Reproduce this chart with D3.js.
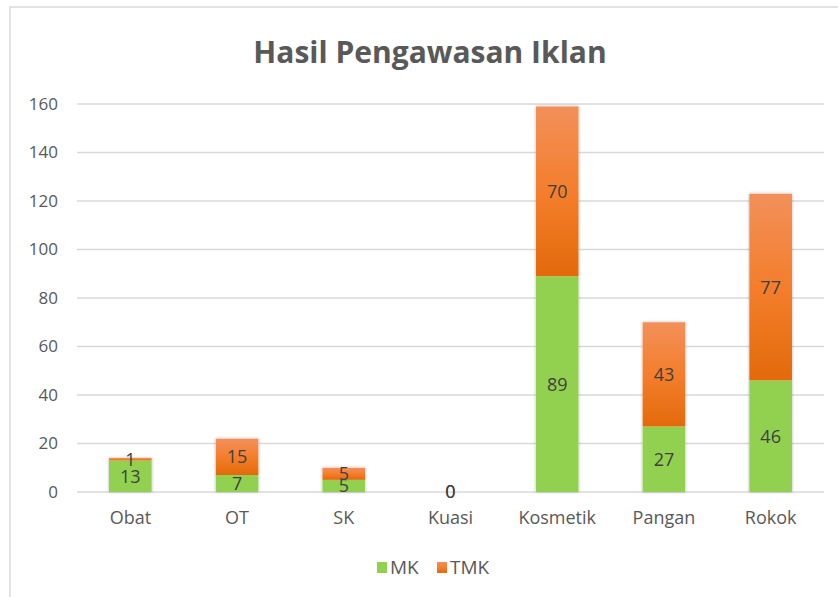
<!DOCTYPE html>
<html>
<head>
<meta charset="utf-8">
<script src="https://cdnjs.cloudflare.com/ajax/libs/d3/7.8.5/d3.min.js"></script>
<style>
  body { margin: 0; background: #fff; }
  text { font-family: "Open Sans", sans-serif; }
</style>
</head>
<body>
<div id="chart"></div>
<script>
var categories = ["Obat", "OT", "SK", "Kuasi", "Kosmetik", "Pangan", "Rokok"];
var mkValues = [13, 7, 5, 0, 89, 27, 46];
var tmkValues = [1, 15, 5, 0, 70, 43, 77];
var yTicks = [0, 20, 40, 60, 80, 100, 120, 140, 160];
var seriesNames = ["MK", "TMK"];

var width = 838, height = 597;
var margin = {top: 104, right: 14, bottom: 105, left: 77};

var svg = d3.select("#chart").append("svg")
    .attr("width", width)
    .attr("height", height);

var defs = svg.append("defs");
var grad = defs.append("linearGradient")
    .attr("id", "orangeGrad")
    .attr("x1", 0).attr("y1", 0).attr("x2", 0).attr("y2", 1);
grad.append("stop").attr("offset", "0%").attr("stop-color", "#F2905A");
grad.append("stop").attr("offset", "50%").attr("stop-color", "#F47E2C");
grad.append("stop").attr("offset", "100%").attr("stop-color", "#E36A0A");

var shadow = defs.append("filter").attr("id", "shadow")
    .attr("x", "-20%").attr("y", "-20%").attr("width", "140%").attr("height", "140%");
shadow.append("feDropShadow")
    .attr("dx", 0).attr("dy", 0).attr("stdDeviation", 1.6)
    .attr("flood-color", "#000").attr("flood-opacity", 0.3);

// chart frame
svg.append("rect")
    .attr("x", 10).attr("y", 7)
    .attr("width", 840).attr("height", 600)
    .attr("fill", "none")
    .attr("stroke", "#d9d9d9")
    .attr("stroke-width", 1.5);

svg.append("text")
    .attr("x", 430)
    .attr("y", 63)
    .attr("text-anchor", "middle")
    .attr("fill", "#595959")
    .style("font-size", "30px")
    .style("font-weight", 700)
    .text("Hasil Pengawasan Iklan");

var x = d3.scaleBand()
    .domain(categories)
    .range([margin.left, width - margin.right])
    .paddingInner(0.6)
    .paddingOuter(0.3);

var y = d3.scaleLinear()
    .domain([0, 160])
    .range([height - margin.bottom, margin.top]);

// gridlines
svg.append("g")
  .selectAll("line")
  .data(yTicks)
  .enter().append("line")
    .attr("x1", margin.left)
    .attr("x2", width - margin.right)
    .attr("y1", function(d) { return y(d); })
    .attr("y2", function(d) { return y(d); })
    .attr("stroke", "#d9d9d9")
    .attr("stroke-width", 1.5);

var yAxis = svg.append("g")
    .attr("transform", "translate(" + margin.left + ",0)")
    .call(d3.axisLeft(y).tickValues(yTicks).tickSize(0).tickPadding(19));
yAxis.select(".domain").remove();
yAxis.selectAll("text")
    .attr("fill", "#595959")
    .style("font-size", "17px");

var xAxis = svg.append("g")
    .attr("transform", "translate(0," + y(0) + ")")
    .call(d3.axisBottom(x).tickSize(0).tickPadding(19));
xAxis.select(".domain").remove();
xAxis.selectAll("text")
    .attr("fill", "#595959")
    .style("font-size", "18px");

var rows = categories.map(function(c, i) {
  return {cat: c, MK: mkValues[i], TMK: tmkValues[i]};
});
var stack = d3.stack().keys(seriesNames)(rows);
var colors = {MK: "#92D050", TMK: "url(#orangeGrad)"};

// bars with shadow
svg.append("g")
  .selectAll("rect")
  .data(rows.filter(function(d) { return d.MK + d.TMK > 0; }))
  .enter().append("rect")
    .attr("x", function(d) { return x(d.cat); })
    .attr("y", function(d) { return y(d.MK + d.TMK); })
    .attr("width", x.bandwidth())
    .attr("height", function(d) { return y(0) - y(d.MK + d.TMK); })
    .attr("fill", "#fff")
    .attr("filter", "url(#shadow)");

var layers = svg.append("g")
  .selectAll("g")
  .data(stack)
  .enter().append("g");

layers.selectAll("rect")
  .data(function(s) { return s.map(function(d) { return {key: s.key, d: d}; }); })
  .enter().append("rect")
    .attr("x", function(p) { return x(p.d.data.cat); })
    .attr("y", function(p) { return y(p.d[1]); })
    .attr("width", x.bandwidth())
    .attr("height", function(p) { return y(p.d[0]) - y(p.d[1]); })
    .attr("fill", function(p) { return colors[p.key]; });

layers.selectAll("text")
  .data(function(s) { return s.map(function(d) { return {key: s.key, d: d}; }); })
  .enter().append("text")
    .attr("x", function(p) { return x(p.d.data.cat) + x.bandwidth() / 2; })
    .attr("y", function(p) { return y((p.d[0] + p.d[1]) / 2); })
    .attr("dy", "0.36em")
    .attr("text-anchor", "middle")
    .attr("fill", "#404040")
    .style("font-size", "18px")
    .text(function(p) { return p.d[1] - p.d[0]; });

// legend
var legend = svg.append("g");
var legendX = [377, 437];
seriesNames.forEach(function(name, i) {
  legend.append("rect")
    .attr("x", legendX[i]).attr("y", 562)
    .attr("width", 10).attr("height", 11)
    .attr("fill", colors[name]);
  legend.append("text")
    .attr("x", legendX[i] + 13).attr("y", 574)
    .attr("fill", "#595959")
    .style("font-size", "19px")
    .text(name);
});
</script>
</body>
</html>
